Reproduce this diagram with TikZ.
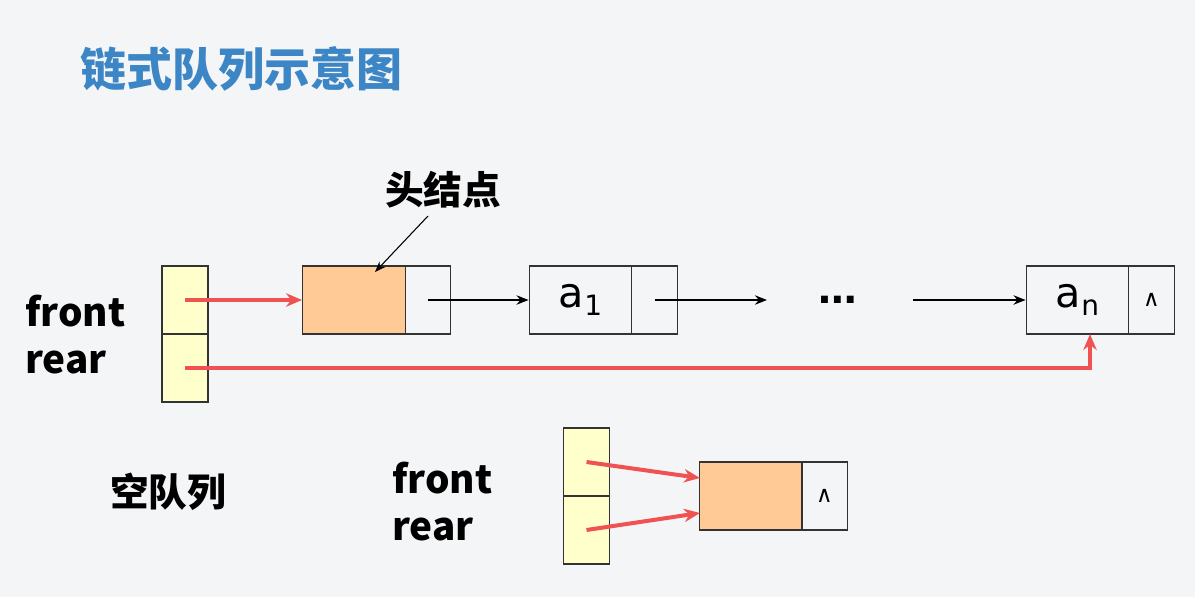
\documentclass[tikz,border=0pt]{standalone}
\usepackage{fontspec}
\newfontfamily\cjk{Noto Sans CJK SC}
\newfontfamily\dv{DejaVu Sans}
\usetikzlibrary{arrows.meta}
\definecolor{bg}{HTML}{F4F5F7}
\definecolor{titleblue}{HTML}{3D86C6}
\definecolor{ptrfill}{HTML}{FFFFCC}
\definecolor{headfill}{HTML}{FFCA96}
\definecolor{redline}{HTML}{F05252}
\tikzset{
  cell/.style={draw=black!80, line width=0.9pt, inner sep=0pt, minimum height=51pt},
  qcell/.style={cell, fill=ptrfill, minimum width=34.5pt},
  datacell/.style={cell, minimum width=77pt},
  nextcell/.style={cell, minimum width=34pt},
  lbl/.style={font=\cjk\bfseries\fontsize{29}{32}\selectfont, inner sep=0pt},
  redarrow/.style={draw=redline, line width=3pt, -{Stealth[length=12pt,width=10pt]}},
  blackarrow/.style={draw=black, line width=1.8pt, -{Stealth[length=9pt,width=7pt]}},
  nil/.style={font=\dv\fontsize{17}{19}\selectfont}
}
\begin{document}
\begin{tikzpicture}[x=0.75pt,y=-0.75pt]
\useasboundingbox[fill=bg] (0,0) rectangle (1195,597);
% title
\node[anchor=west, inner sep=0pt, text=titleblue, font=\cjk\bfseries\fontsize{34.5}{37}\selectfont] (title) at (80,69) {链式队列示意图};
% top queue
\node[lbl, anchor=west] (front) at (25,311) {front};
\node[lbl, anchor=west] (rear) at (25,362) {rear};
\node[qcell] (q1) at (185,300) {};
\node[qcell] (q2) at (185,368) {};
\node[datacell, fill=headfill] (hd) at (354,300) {};
\node[nextcell] (hp) at (428,300) {};
\node[datacell, font=\dv\fontsize{31}{33}\selectfont] (a1) at (580.5,300) {a\raisebox{-0.35ex}{\fontsize{21}{23}\selectfont 1}};
\node[nextcell] (a1p) at (654.5,300) {};
\node[font=\dv\bfseries\fontsize{29}{31}\selectfont, inner sep=0pt] (dots) at (838,300) {…};
\node[datacell, font=\dv\fontsize{31}{33}\selectfont] (an) at (1077.5,300) {a\raisebox{-0.35ex}{\fontsize{21}{23}\selectfont n}};
\node[nextcell, nil] (anp) at (1151.5,300) {∧};
\coordinate (a1end) at (767,300);
\coordinate (anstart) at (913,300);
\coordinate (anin) at (1090,334);
% head label
\node[lbl] (hlabel) at (443,190) {头结点};
\coordinate (hlfrom) at (428,216);
\coordinate (hlto) at (375,272);
\draw[line width=0.8pt, -{Stealth[length=8pt,width=6pt]}] (hlfrom) -- (hlto);
% black arrows
\draw[blackarrow] (hp.center) -- (a1.west);
\draw[blackarrow] (a1p.center) -- (a1end);
\draw[blackarrow] (anstart) -- (an.west);
% red arrows
\draw[redarrow] (q1.center) -- (hd.west);
\draw[redarrow] (q2.center) -| (anin);
% empty queue
\node[lbl] (empty) at (168,492) {空队列};
\node[lbl, anchor=west] (front2) at (392,478) {front};
\node[lbl, anchor=west] (rear2) at (392,529) {rear};
\node[qcell] (e1) at (586.5,462) {};
\node[qcell] (e2) at (586.5,530) {};
\node[datacell, fill=headfill] (ehd) at (751,496) {};
\node[nextcell, nil] (ehp) at (824.5,496) {∧};
\coordinate (ein1) at (700,478);
\coordinate (ein2) at (700,513);
\draw[redarrow] (e1.center) -- (ein1);
\draw[redarrow] (e2.center) -- (ein2);
\end{tikzpicture}
\end{document}
